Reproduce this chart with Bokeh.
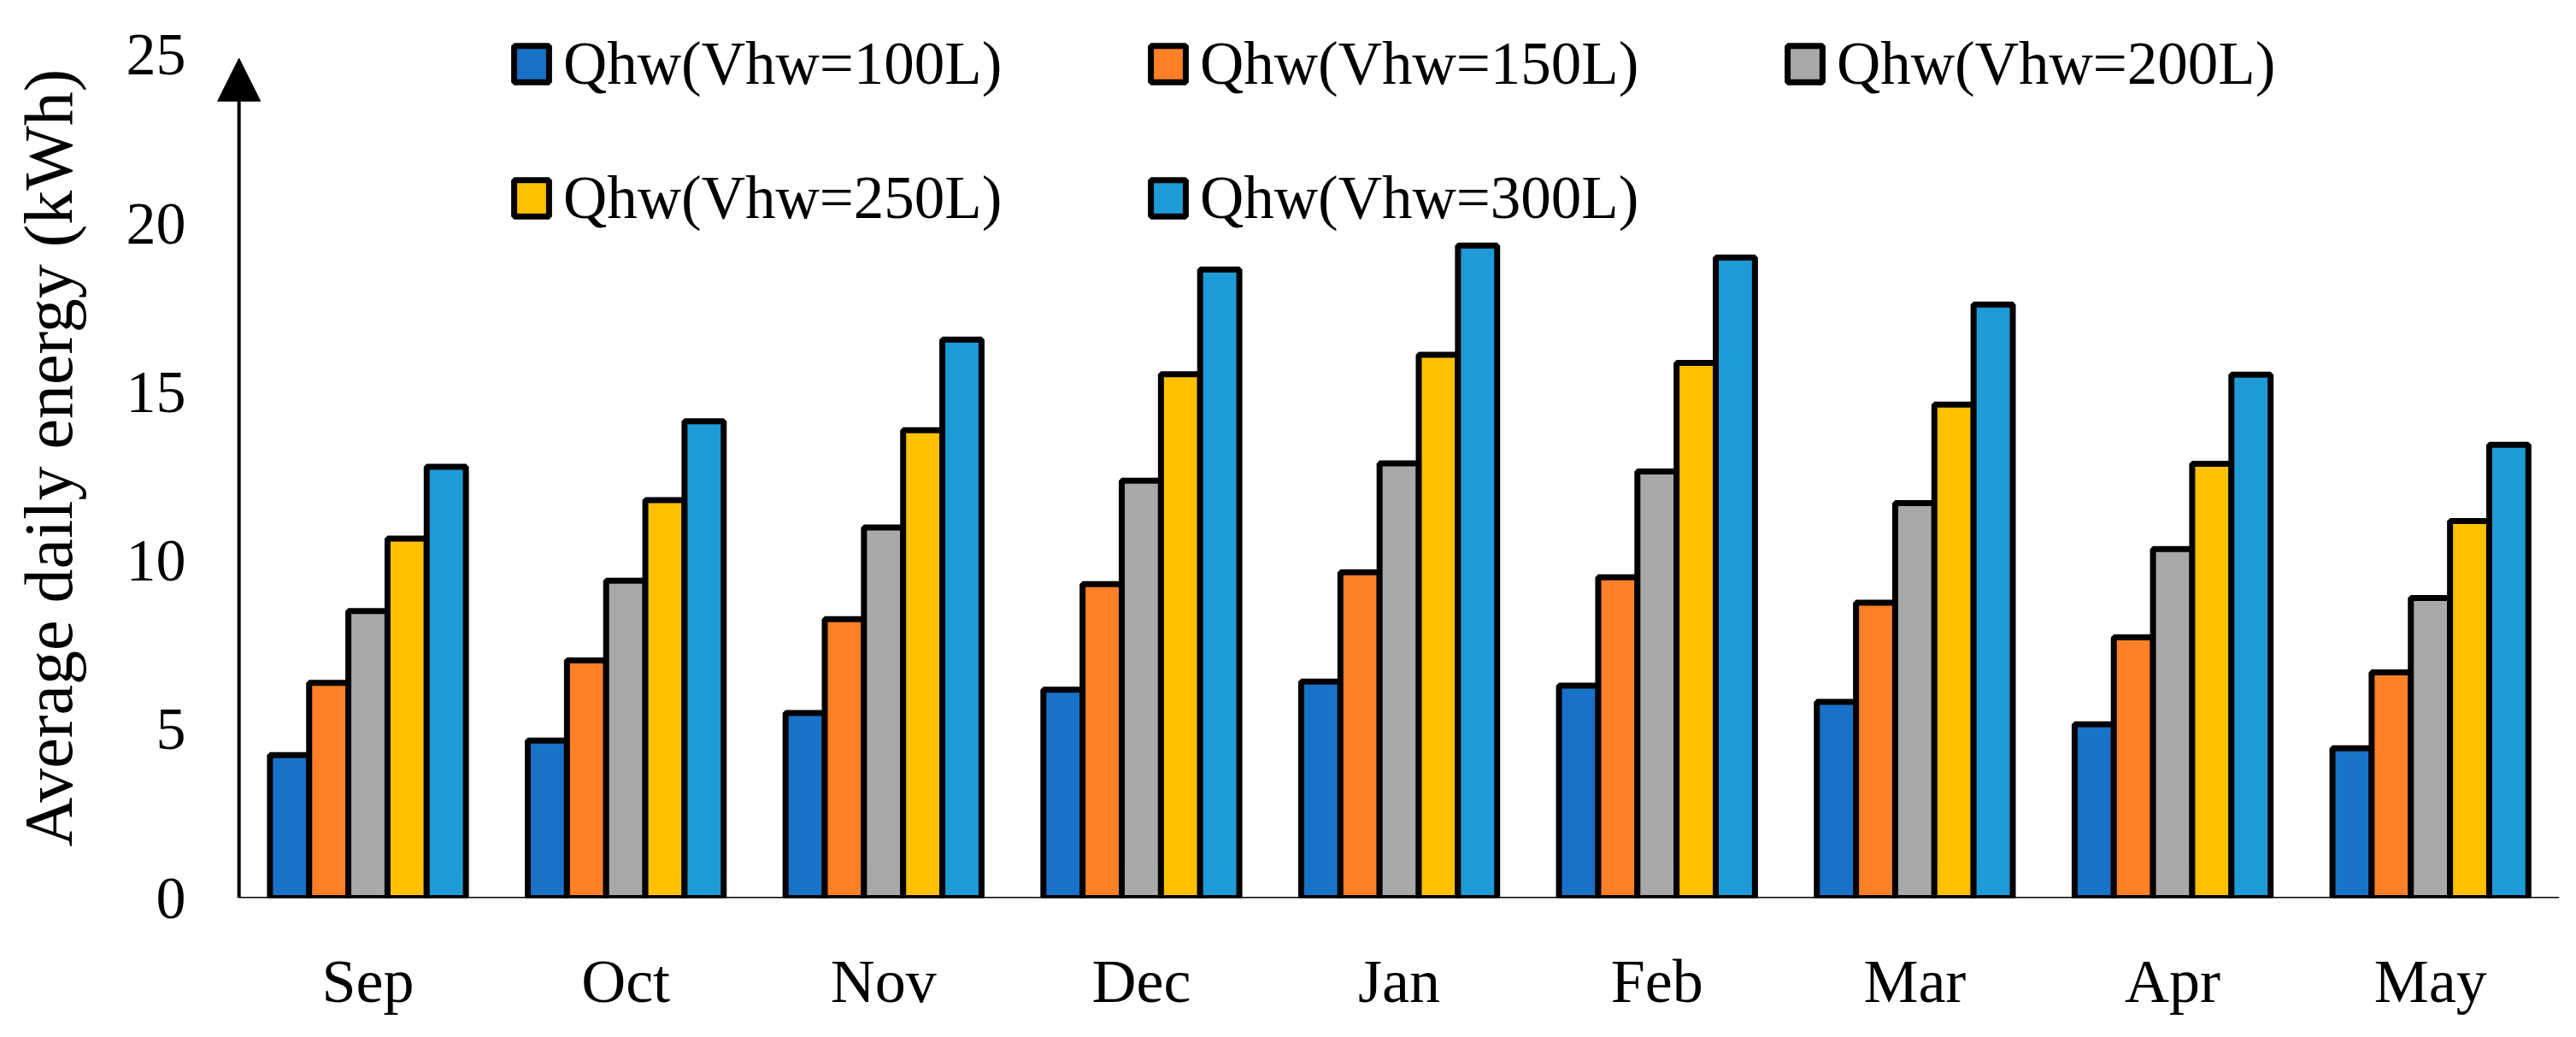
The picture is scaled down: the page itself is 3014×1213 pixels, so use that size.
from bokeh.plotting import figure
from bokeh.models import (ColumnDataSource, Range1d, FixedTicker,
                          Legend, LegendItem, Arrow, NormalHead)
from bokeh.transform import dodge
from bokeh.embed import file_html
from bokeh.resources import INLINE

months = ["Sep", "Oct", "Nov", "Dec", "Jan", "Feb", "Mar", "Apr", "May"]
q100 = [4.24, 4.67, 5.49, 6.18, 6.42, 6.30, 5.82, 5.15, 4.44]
q150 = [6.38, 7.05, 8.27, 9.31, 9.66, 9.51, 8.76, 7.73, 6.69]
q200 = [8.51, 9.41, 10.99, 12.38, 12.89, 12.65, 11.71, 10.35, 8.90]
q250 = [10.66, 11.80, 13.87, 15.53, 16.11, 15.87, 14.63, 12.88, 11.18]
q300 = [12.79, 14.14, 16.56, 18.64, 19.35, 18.99, 17.60, 15.52, 13.44]
series_labels = ["Qhw(Vhw=100L)", "Qhw(Vhw=150L)", "Qhw(Vhw=200L)",
                 "Qhw(Vhw=250L)", "Qhw(Vhw=300L)"]
y_ticks = [0, 5, 10, 15, 20, 25]
y_title = "Average daily energy (kWh)"

colors = ["#1872C8", "#FF8026", "#A8A8A8", "#FFC000", "#1E9BD7"]
keys = ["q100", "q150", "q200", "q250", "q300"]
bar_w = 0.152
offsets = [-2 * bar_w, -bar_w, 0.0, bar_w, 2 * bar_w]
FONT = "Liberation Serif"

# month category centres on a numeric axis (one unit per month)
xc = [i + 0.5 for i in range(len(months))]

src = ColumnDataSource(dict(xc=xc, month=months, q100=q100, q150=q150,
                            q200=q200, q250=q250, q300=q300))

p = figure(x_range=Range1d(-0.1, len(months)), y_range=Range1d(0, 26.11),
           width=2998, height=1197, output_backend="svg", toolbar_location=None,
           min_border_left=249, min_border_right=4, min_border_top=20,
           min_border_bottom=147)
p.outline_line_color = None
p.xgrid.grid_line_color = None
p.ygrid.grid_line_color = None
p.background_fill_color = "white"
p.border_fill_color = "white"

rs = []
for k, c, off in zip(keys, colors, offsets):
    r = p.vbar(x=dodge("xc", off), top=k, width=bar_w,
               source=src, fill_color=c, line_color="black", line_width=7)
    rs.append(r)

# x axis line (starts at the y axis)
p.segment(x0=[0], y0=[0], x1=[len(months)], y1=[0], line_color="black", line_width=3)

# y axis
p.yaxis.ticker = FixedTicker(ticks=y_ticks)
p.yaxis.axis_line_color = None
p.yaxis.major_tick_line_color = None
p.yaxis.minor_tick_line_color = None
p.yaxis.major_label_standoff = 26
p.yaxis.major_label_text_font = FONT
p.yaxis.major_label_text_font_size = "70px"
p.yaxis.major_label_text_color = "black"
p.yaxis.axis_label = y_title
p.yaxis.axis_label_text_font = FONT
p.yaxis.axis_label_text_font_size = "80px"
p.yaxis.axis_label_text_font_style = "normal"
p.yaxis.axis_label_text_color = "black"
p.yaxis.axis_label_standoff = 44

# x axis
p.xaxis.ticker = FixedTicker(ticks=xc)
p.xaxis.major_label_overrides = {x: m for x, m in zip(xc, months)}
p.xaxis.axis_line_color = None
p.xaxis.major_tick_line_color = None
p.xaxis.minor_tick_line_color = None
p.xaxis.major_label_standoff = 51
p.xaxis.major_label_text_font = FONT
p.xaxis.major_label_text_font_size = "72px"
p.xaxis.major_label_text_color = "black"

# arrow y axis
p.add_layout(Arrow(end=NormalHead(size=50, fill_color="black", line_color="black", line_width=1),
                   x_start=0, y_start=0, x_end=0, y_end=24.9,
                   line_color="black", line_width=4))


def make_legend(idx, loc):
    leg = Legend(items=[LegendItem(label=series_labels[i], renderers=[rs[i]]) for i in idx],
                 location=loc, orientation="horizontal")
    leg.label_text_font = FONT
    leg.label_text_font_size = "71px"
    leg.label_text_color = "black"
    leg.glyph_width = 51
    leg.glyph_height = 53
    leg.label_standoff = 12
    leg.label_width = 550
    leg.spacing = 132
    leg.padding = 0
    leg.margin = 0
    leg.border_line_color = None
    leg.background_fill_alpha = 0
    return leg


p.add_layout(make_legend([0, 1, 2], (347, 935)))
p.add_layout(make_legend([3, 4], (347, 778)))

open("out.html", "w").write(file_html(p, INLINE))
